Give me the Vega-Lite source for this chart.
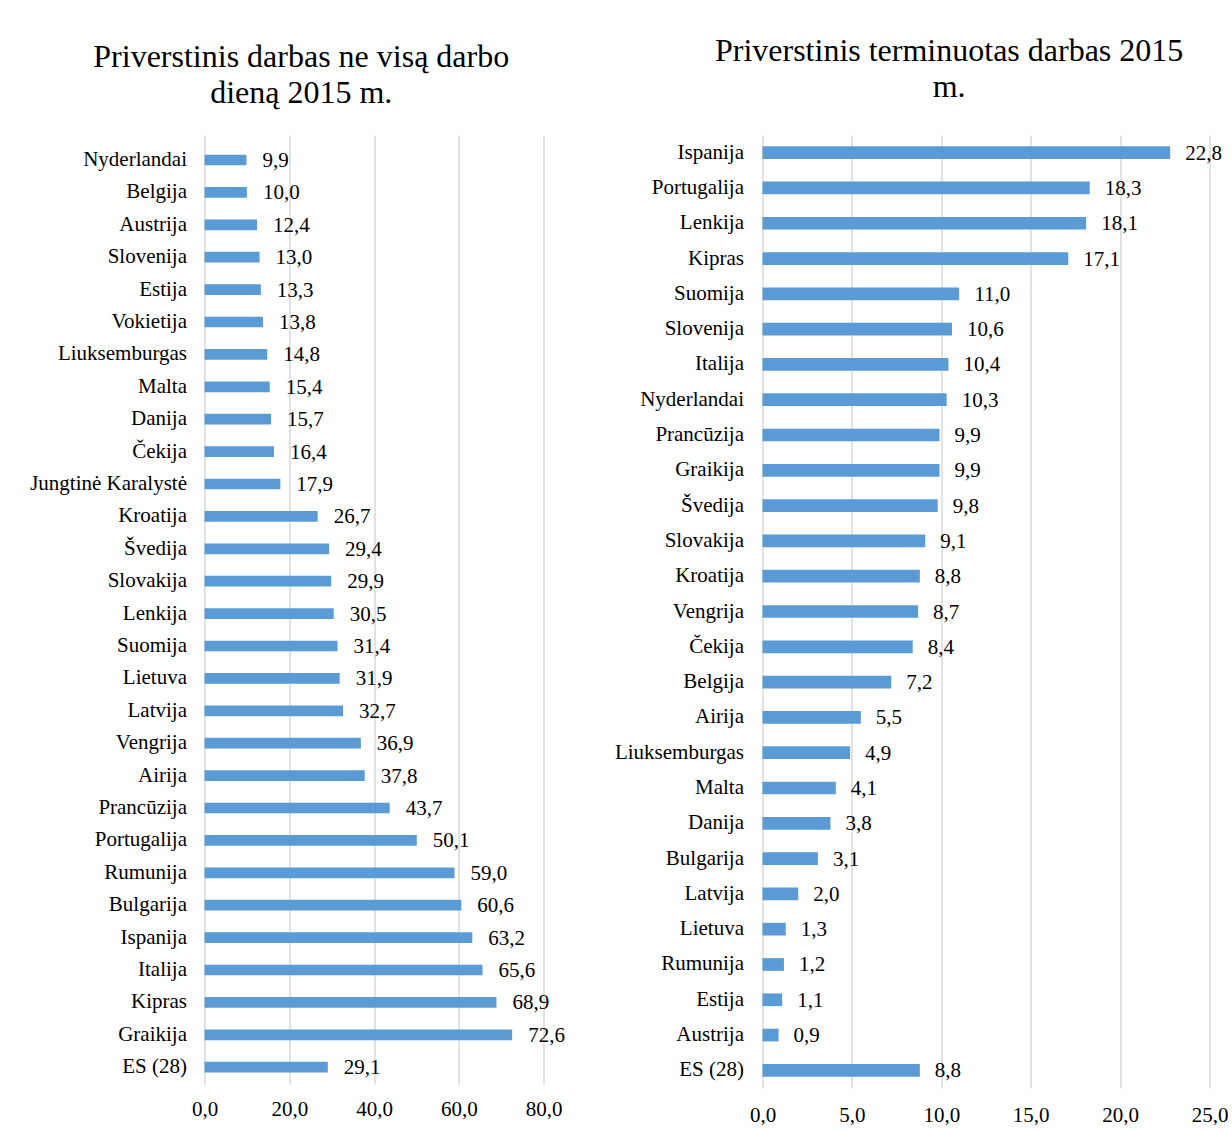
{
  "$schema": "https://vega.github.io/schema/vega-lite/v6.json",
  "padding": {"left": 29.5, "top": 35, "right": 0, "bottom": 0},
  "background": "white",
  "config": {
    "locale": {"number": {"decimal": ",", "thousands": " ", "grouping": [3], "currency": ["", ""]}},
    "font": "Liberation Serif",
    "view": {"stroke": null},
    "axis": {"labelFont": "Liberation Serif", "labelFontSize": 21, "labelColor": "#000000", "domain": false, "ticks": false, "title": null},
    "title": {"font": "Liberation Serif", "fontSize": 32, "fontWeight": "normal", "color": "#000000", "anchor": "middle", "frame": "bounds", "lineHeight": 36}
  },
  "datasets": {
    "part": [
      {"country": "Nyderlandai", "value": 9.9},
      {"country": "Belgija", "value": 10.0},
      {"country": "Austrija", "value": 12.4},
      {"country": "Slovenija", "value": 13.0},
      {"country": "Estija", "value": 13.3},
      {"country": "Vokietija", "value": 13.8},
      {"country": "Liuksemburgas", "value": 14.8},
      {"country": "Malta", "value": 15.4},
      {"country": "Danija", "value": 15.7},
      {"country": "Čekija", "value": 16.4},
      {"country": "Jungtinė Karalystė", "value": 17.9},
      {"country": "Kroatija", "value": 26.7},
      {"country": "Švedija", "value": 29.4},
      {"country": "Slovakija", "value": 29.9},
      {"country": "Lenkija", "value": 30.5},
      {"country": "Suomija", "value": 31.4},
      {"country": "Lietuva", "value": 31.9},
      {"country": "Latvija", "value": 32.7},
      {"country": "Vengrija", "value": 36.9},
      {"country": "Airija", "value": 37.8},
      {"country": "Prancūzija", "value": 43.7},
      {"country": "Portugalija", "value": 50.1},
      {"country": "Rumunija", "value": 59.0},
      {"country": "Bulgarija", "value": 60.6},
      {"country": "Ispanija", "value": 63.2},
      {"country": "Italija", "value": 65.6},
      {"country": "Kipras", "value": 68.9},
      {"country": "Graikija", "value": 72.6},
      {"country": "ES (28)", "value": 29.1}
    ],
    "temp": [
      {"country": "Ispanija", "value": 22.8},
      {"country": "Portugalija", "value": 18.3},
      {"country": "Lenkija", "value": 18.1},
      {"country": "Kipras", "value": 17.1},
      {"country": "Suomija", "value": 11.0},
      {"country": "Slovenija", "value": 10.6},
      {"country": "Italija", "value": 10.4},
      {"country": "Nyderlandai", "value": 10.3},
      {"country": "Prancūzija", "value": 9.9},
      {"country": "Graikija", "value": 9.9},
      {"country": "Švedija", "value": 9.8},
      {"country": "Slovakija", "value": 9.1},
      {"country": "Kroatija", "value": 8.8},
      {"country": "Vengrija", "value": 8.7},
      {"country": "Čekija", "value": 8.4},
      {"country": "Belgija", "value": 7.2},
      {"country": "Airija", "value": 5.5},
      {"country": "Liuksemburgas", "value": 4.9},
      {"country": "Malta", "value": 4.1},
      {"country": "Danija", "value": 3.8},
      {"country": "Bulgarija", "value": 3.1},
      {"country": "Latvija", "value": 2.0},
      {"country": "Lietuva", "value": 1.3},
      {"country": "Rumunija", "value": 1.2},
      {"country": "Estija", "value": 1.1},
      {"country": "Austrija", "value": 0.9},
      {"country": "ES (28)", "value": 8.8}
    ]
  },
  "spacing": 48,
  "hconcat": [
    {
      "width": 339,
      "height": 949,
      "title": {"text": ["Priverstinis darbas ne visą darbo", "dieną 2015 m."], "dx": 4, "offset": -7, "baseline": "bottom"},
      "data": {"name": "part"},
      "encoding": {
        "y": {"field": "country", "type": "nominal", "sort": null,
              "scale": {"paddingInner": 0.67, "paddingOuter": 0.48, "align": 0.632},
              "axis": {"labelPadding": 18, "grid": false}}
      },
      "layer": [
        {
          "mark": {"type": "bar", "color": "#5B9BD5"},
          "encoding": {
            "x": {"field": "value", "type": "quantitative",
                  "scale": {"domain": [0, 80], "nice": false},
                  "axis": {"values": [0, 20, 40, 60, 80], "format": ".1f", "grid": true, "gridColor": "#D9D9D9", "gridWidth": 1.5, "labelPadding": 14, "labelFlush": false}}
          }
        },
        {
          "mark": {"type": "text", "align": "left", "baseline": "middle", "dx": 16, "dy": 1, "fontSize": 21, "font": "Liberation Serif", "color": "#000000"},
          "encoding": {
            "x": {"field": "value", "type": "quantitative"},
            "text": {"field": "value", "type": "quantitative", "format": ".1f"}
          }
        }
      ]
    },
    {
      "width": 447,
      "height": 953,
      "title": {"text": ["Priverstinis terminuotas darbas 2015", "m."], "dx": 28, "offset": -1, "baseline": "bottom"},
      "data": {"name": "temp"},
      "encoding": {
        "y": {"field": "country", "type": "nominal", "sort": null,
              "scale": {"paddingInner": 0.64, "paddingOuter": 0.32},
              "axis": {"labelPadding": 19, "grid": false}}
      },
      "layer": [
        {
          "mark": {"type": "bar", "color": "#5B9BD5"},
          "encoding": {
            "x": {"field": "value", "type": "quantitative",
                  "scale": {"domain": [0, 25], "nice": false},
                  "axis": {"values": [0, 5, 10, 15, 20, 25], "format": ".1f", "grid": true, "gridColor": "#D9D9D9", "gridWidth": 1.5, "labelPadding": 16, "labelFlush": false}}
          }
        },
        {
          "mark": {"type": "text", "align": "left", "baseline": "middle", "dx": 15, "dy": 1, "fontSize": 21, "font": "Liberation Serif", "color": "#000000"},
          "encoding": {
            "x": {"field": "value", "type": "quantitative"},
            "text": {"field": "value", "type": "quantitative", "format": ".1f"}
          }
        }
      ]
    }
  ]
}
